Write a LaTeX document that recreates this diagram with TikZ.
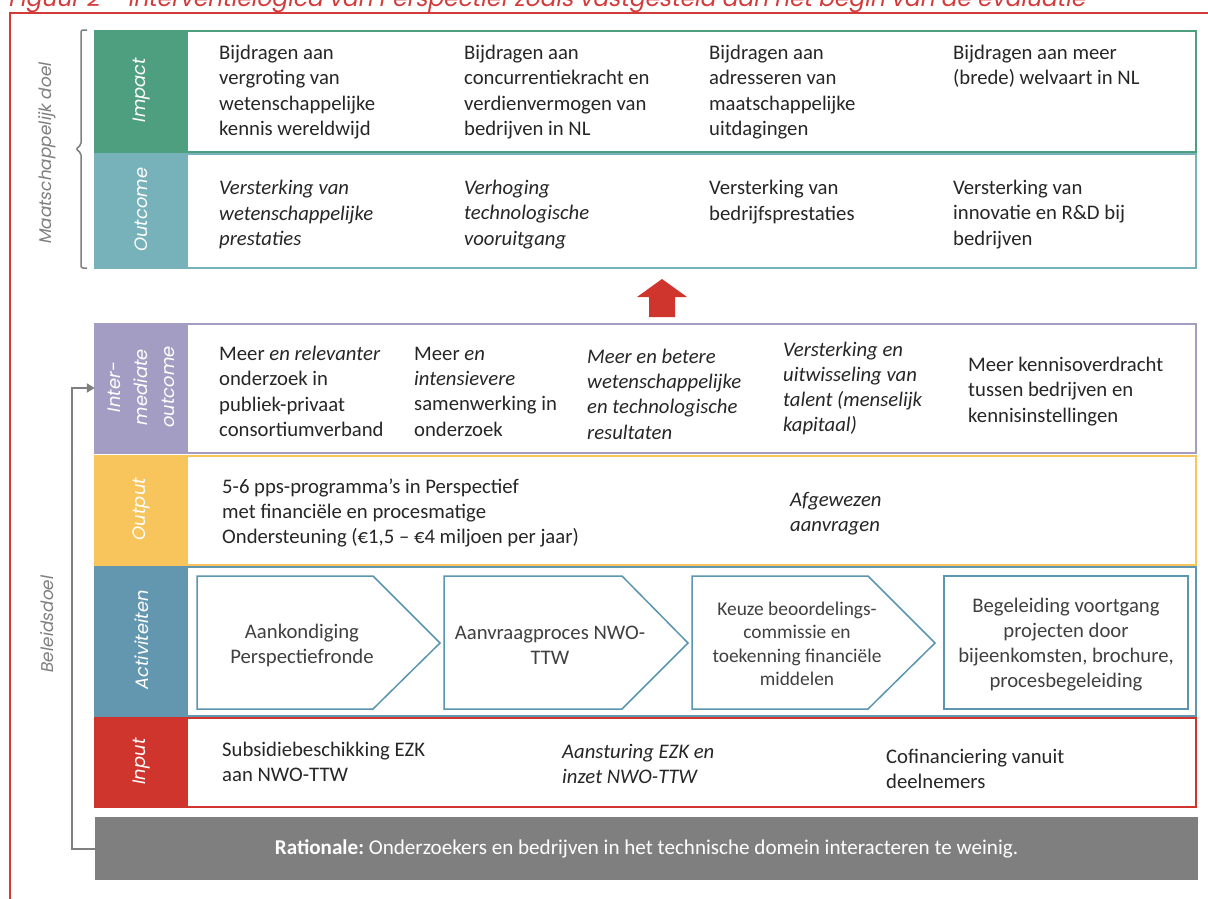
\documentclass[tikz,border=0pt]{standalone}
\usepackage{fontspec}
\setmainfont{Carlito}
\newfontfamily\gothic[FakeSlant=0.18]{Poppins}
\usetikzlibrary{arrows.meta}
\definecolor{cImp}{HTML}{4E9E80}
\definecolor{cOut}{HTML}{77B1B9}
\definecolor{cInt}{HTML}{A39DC3}
\definecolor{cOpt}{HTML}{F7C55B}
\definecolor{cAct}{HTML}{6397B0}
\definecolor{cInp}{HTML}{D0352D}
\definecolor{cRat}{HTML}{7F7F7F}
\definecolor{cShape}{HTML}{5B95B0}
\definecolor{cTitle}{HTML}{D33B3B}
\definecolor{cTxt}{HTML}{262626}
\definecolor{cAtx}{HTML}{404040}
\begin{document}
\begin{tikzpicture}[x=1pt,y=-1pt,
  txt/.style={anchor=west, align=left, inner sep=0pt, text=cTxt, font=\fontsize{20.7}{25.3}\selectfont},
  lab/.style={rotate=90, inner sep=0pt, text=white, align=center, font=\gothic\fontsize{18}{27}\selectfont},
  strip/.style={inner sep=0pt, minimum width=93pt},
  side/.style={rotate=90, inner sep=0pt, text=cRat, font=\gothic\fontsize{17}{20}\selectfont},
  acttxt/.style={align=center, inner sep=0pt, text=cAtx, font=\fontsize{20.7}{25}\selectfont},
  shapebox/.style={draw=cShape, line width=1.5pt, fill=white},
  rowline/.style={line width=2pt},
  conn/.style={draw=cRat, line width=2pt, -{Triangle[length=8pt,width=9pt]}}
]
\useasboundingbox (0,0) rectangle (1208,898);
\clip (0,0) rectangle (1208,898);
\fill[white] (0,0) rectangle (1208,898);

% title (cut off at the top) and frame
\node[anchor=base west, inner sep=0pt, text=cTitle] (title) at (8,6.5)
  {\resizebox{1077pt}{!}{\gothic\fontsize{20}{24}\selectfont Figuur 2 – Interventielogica van Perspectief zoals vastgesteld aan het begin van de evaluatie}};
\draw[cTitle, line width=2pt] (10,910) -- (10,13) -- (1220,13);

% ---------- Impact ----------
\draw[rowline, draw=cImp] (95,31) rectangle (1196,152);
\node[strip, fill=cImp, minimum height=122pt] (impS) at (141.5,91) {};
\node[lab] (impL) at (impS.center) {Impact};
\node[txt] (imp1) at (219,92) {Bijdragen aan\\vergroting van\\wetenschappelijke\\kennis wereldwijd};
\node[txt] (imp2) at (464,92) {Bijdragen aan\\concurrentiekracht en\\verdienvermogen van\\bedrijven in NL};
\node[txt] (imp3) at (709,92) {Bijdragen aan\\adresseren van\\maatschappelijke\\uitdagingen};
\node[txt] (imp4) at (953,66.5) {Bijdragen aan meer\\(brede)\ welvaart in NL};

% ---------- Outcome ----------
\draw[rowline, draw=cOut] (95,154) rectangle (1196,268);
\node[strip, fill=cOut, minimum height=115pt] (outS) at (141.5,210.5) {};
\node[lab] (outL) at (outS.center) {Outcome};
\node[txt, font=\itshape\fontsize{20.7}{25.3}\selectfont] (out1) at (219,214.5) {Versterking van\\wetenschappelijke\\prestaties};
\node[txt, font=\itshape\fontsize{20.7}{25.3}\selectfont] (out2) at (464,214.5) {Verhoging\\technologische\\vooruitgang};
\node[txt] (out3) at (709,202) {Versterking van\\bedrijfsprestaties};
\node[txt] (out4) at (953,214.5) {Versterking van\\innovatie en R\&D bij\\bedrijven};

% ---------- red arrow ----------
\fill[cInp] (649,317) -- (649,297) -- (637,297) -- (662,279) -- (687,297) -- (675,297) -- (675,317) -- cycle;

% ---------- Intermediate outcome ----------
\draw[rowline, draw=cInt] (95,324) rectangle (1196,453);
\node[strip, fill=cInt, minimum height=130pt] (intS) at (141.5,388) {};
\node[lab] (intL) at (intS.center) {Inter-\\mediate\\outcome};
\node[txt] (int1) at (219,391.5) {Meer \textit{en relevanter}\\onderzoek in\\publiek-privaat\\consortiumverband};
\node[txt] (int2) at (414,391.5) {Meer \textit{en}\\\textit{intensievere}\\samenwerking in\\onderzoek};
\node[txt, font=\itshape\fontsize{20.7}{25.3}\selectfont] (int3) at (587,394) {Meer en betere\\wetenschappelijke\\en technologische\\resultaten};
\node[txt, font=\itshape\fontsize{20.7}{25.3}\selectfont] (int4) at (783,388.5) {Versterking en\\uitwisseling van\\talent (menselijk\\kapitaal)};
\node[txt] (int5) at (968,391.5) {Meer kennisoverdracht\\tussen bedrijven en\\kennisinstellingen};

% ---------- Output ----------
\draw[rowline, draw=cOpt] (95,456) rectangle (1196,564.5);
\node[strip, fill=cOpt, minimum height=110pt] (optS) at (141.5,510) {};
\node[lab] (optL) at (optS.center) {Output};
\node[txt] (opt1) at (222,513) {5-6 pps-programma’s in Perspectief\\met financiële en procesmatige\\Ondersteuning (€1,5 – €4 miljoen per jaar)};
\node[txt, font=\itshape\fontsize{20.7}{25.3}\selectfont] (opt2) at (790,514) {Afgewezen\\aanvragen};

% ---------- Activiteiten ----------
\draw[rowline, draw=cAct] (95,567) rectangle (1196,715.5);
\node[strip, fill=cAct, minimum height=150pt] (actS) at (141.5,641) {};
\node[lab] (actL) at (actS.center) {Activiteiten};
\draw[shapebox] (197,576) -- (373,576) -- (440,643) -- (373,709) -- (197,709) -- cycle;
\draw[shapebox] (444,576) -- (622,576) -- (688,643) -- (622,709) -- (444,709) -- cycle;
\draw[shapebox] (692,576) -- (868,576) -- (935,643) -- (868,709) -- (692,709) -- cycle;
\draw[shapebox] (944,576) rectangle (1188,709);
\node[acttxt] (act1) at (302,645) {Aankondiging\\Perspectiefronde};
\node[acttxt] (act2) at (550,645) {Aanvraagproces NWO-\\TTW};
\node[acttxt, font=\fontsize{19.4}{23.5}\selectfont] (act3) at (797,644) {Keuze beoordelings-\\commissie en\\toekenning financiële\\middelen};
\node[acttxt] (act4) at (1066,644.5) {Begeleiding voortgang\\projecten door\\bijeenkomsten, brochure,\\procesbegeleiding};

% ---------- Input ----------
\draw[rowline, draw=cInp] (95,718) rectangle (1196,807);
\node[strip, fill=cInp, minimum height=91pt] (inpS) at (141.5,762.5) {};
\node[lab] (inpL) at (inpS.center) {Input};
\node[txt] (inp1) at (222,762) {Subsidiebeschikking EZK\\aan NWO-TTW};
\node[txt, font=\itshape\fontsize{20.7}{25.3}\selectfont] (inp2) at (562,764) {Aansturing EZK en\\inzet NWO-TTW};
\node[txt] (inp3) at (886,769) {Cofinanciering vanuit\\deelnemers};

% ---------- Rationale ----------
\node[fill=cRat, inner sep=0pt, minimum width=1103pt, minimum height=63pt, text=white,
      font=\fontsize{21.1}{25}\selectfont] (rat) at (646.5,848.5)
  {\textbf{Rationale:}~Onderzoekers en bedrijven in het technische domein interacteren te weinig.};

% ---------- side brace, labels and feedback connector ----------
\draw[cRat, line width=1.5pt, rounded corners=2pt] (87,30) -- (81,30) -- (81,145) -- (76,149) -- (81,153) -- (81,268) -- (87,268);
\node[side] (maat) at (47,154) {Maatschappelijk doel};
\node[side] (bel) at (47,625) {Beleidsdoel};
\coordinate (bend) at (72,388);
\draw[conn] (rat.west) -| (bend) -- (intS.west);
\end{tikzpicture}
\end{document}
